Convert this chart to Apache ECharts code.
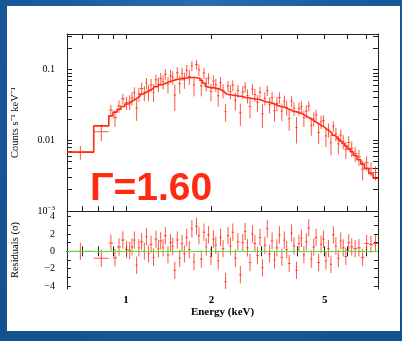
<!DOCTYPE html>
<html><head><meta charset="utf-8">
<script src="https://cdn.jsdelivr.net/npm/echarts@6/dist/echarts.min.js"></script>
<style>
html,body{margin:0;padding:0;width:402px;height:341px;overflow:hidden;}
body{background:
 radial-gradient(ellipse at 50% 0%, #2a6cb0 0%, #1d5c9f 45%, #12508f 100%);}
#panel{position:absolute;left:7px;top:6px;width:393px;height:325px;background:#fff;}
#chart{position:absolute;left:0;top:0;width:402px;height:341px;}
</style></head>
<body><div id="panel"></div><div id="chart"></div>
<script>
// Energy bin edges (keV)
const binEdges = [
 0.62, 0.77, 0.87, 0.90, 0.93, 0.96, 0.99, 1.02, 1.04, 1.06,
 1.08, 1.10, 1.12, 1.15, 1.17, 1.19, 1.21, 1.24, 1.26, 1.29,
 1.31, 1.34, 1.36, 1.39, 1.42, 1.45, 1.47, 1.50, 1.53, 1.56,
 1.59, 1.62, 1.65, 1.69, 1.72, 1.75, 1.79, 1.82, 1.86, 1.90,
 1.93, 1.97, 2.01, 2.05, 2.09, 2.13, 2.17, 2.22, 2.26, 2.31,
 2.35, 2.40, 2.45, 2.50, 2.55, 2.60, 2.65, 2.70, 2.76, 2.81,
 2.87, 2.93, 2.99, 3.05, 3.11, 3.17, 3.23, 3.30, 3.36, 3.43,
 3.50, 3.57, 3.64, 3.71, 3.79, 3.86, 3.94, 4.02, 4.10, 4.18,
 4.27, 4.35, 4.44, 4.53, 4.62, 4.71, 4.81, 4.90, 5.00, 5.10,
 5.21, 5.31, 5.42, 5.53, 5.64, 5.75, 5.87, 6.00, 6.15, 6.30,
 6.50, 6.70, 6.90, 7.15, 7.40, 7.70
];
// Observed count rate (counts s^-1 keV^-1)
const counts = [
 0.0068, 0.0132, 0.0267, 0.0209, 0.0305, 0.0386, 0.0339, 0.0351, 0.0398, 0.0469,
 0.0285, 0.0450, 0.0539, 0.0470, 0.0640, 0.0482, 0.0606, 0.0481, 0.0714, 0.0622,
 0.0742, 0.0675, 0.0861, 0.0622, 0.0814, 0.0776, 0.0435, 0.0901, 0.0633, 0.0872,
 0.0719, 0.0979, 0.0798, 0.1130, 0.0604, 0.1180, 0.0993, 0.0587, 0.0893, 0.0632,
 0.0752, 0.0491, 0.0689, 0.0608, 0.0425, 0.0657, 0.0506, 0.0254, 0.0583, 0.0488,
 0.0600, 0.0368, 0.0503, 0.0245, 0.0484, 0.0566, 0.0429, 0.0299, 0.0530, 0.0442,
 0.0346, 0.0477, 0.0237, 0.0394, 0.0506, 0.0322, 0.0401, 0.0262, 0.0332, 0.0403,
 0.0258, 0.0358, 0.0290, 0.0202, 0.0358, 0.0283, 0.0151, 0.0282, 0.0298, 0.0209,
 0.0258, 0.0305, 0.0163, 0.0202, 0.0228, 0.0129, 0.0183, 0.0190, 0.0115, 0.0141,
 0.0092, 0.0158, 0.0123, 0.0089, 0.0118, 0.0096, 0.0074, 0.0093, 0.0077, 0.0065,
 0.0058, 0.0039, 0.0048, 0.0040, 0.0035
];
// 1-sigma errors on the count rate
const countsErr = [
 0.0015, 0.0035, 0.0049, 0.0055, 0.0061, 0.0066, 0.0072, 0.0084, 0.0089, 0.0092,
 0.0097, 0.0103, 0.0109, 0.0115, 0.0119, 0.0124, 0.0128, 0.0134, 0.0139, 0.0143,
 0.0149, 0.0153, 0.0158, 0.0163, 0.0167, 0.0170, 0.0176, 0.0177, 0.0180, 0.0182,
 0.0185, 0.0185, 0.0188, 0.0188, 0.0188, 0.0185, 0.0182, 0.0170, 0.0155, 0.0140,
 0.0136, 0.0134, 0.0134, 0.0131, 0.0128, 0.0124, 0.0116, 0.0070, 0.0107, 0.0107,
 0.0104, 0.0104, 0.0103, 0.0085, 0.0100, 0.0097, 0.0097, 0.0095, 0.0095, 0.0092,
 0.0092, 0.0090, 0.0088, 0.0085, 0.0084, 0.0082, 0.0080, 0.0078, 0.0076, 0.0073,
 0.0072, 0.0070, 0.0068, 0.0066, 0.0063, 0.0062, 0.0061, 0.0059, 0.0057, 0.0055,
 0.0053, 0.0050, 0.0047, 0.0045, 0.0043, 0.0041, 0.0039, 0.0036, 0.0035, 0.0032,
 0.0031, 0.0028, 0.0027, 0.0026, 0.0023, 0.0022, 0.0020, 0.0021, 0.0019, 0.0016,
 0.0015, 0.0012, 0.0011, 0.0009, 0.0008
];
// Folded power-law model (Gamma = 1.60)
const model = [
 0.0068, 0.0160, 0.0221, 0.0250, 0.0275, 0.0300, 0.0325, 0.0345, 0.0365, 0.0380,
 0.0400, 0.0420, 0.0450, 0.0470, 0.0490, 0.0510, 0.0530, 0.0550, 0.0570, 0.0590,
 0.0610, 0.0630, 0.0650, 0.0670, 0.0690, 0.0700, 0.0720, 0.0730, 0.0740, 0.0750,
 0.0760, 0.0760, 0.0770, 0.0770, 0.0770, 0.0760, 0.0750, 0.0700, 0.0640, 0.0580,
 0.0560, 0.0550, 0.0550, 0.0540, 0.0530, 0.0510, 0.0480, 0.0450, 0.0440, 0.0440,
 0.0430, 0.0430, 0.0420, 0.0420, 0.0410, 0.0400, 0.0400, 0.0390, 0.0390, 0.0380,
 0.0380, 0.0370, 0.0360, 0.0350, 0.0345, 0.0340, 0.0330, 0.0320, 0.0310, 0.0300,
 0.0295, 0.0290, 0.0280, 0.0270, 0.0260, 0.0255, 0.0250, 0.0243, 0.0235, 0.0225,
 0.0215, 0.0205, 0.0195, 0.0185, 0.0177, 0.0168, 0.0160, 0.0152, 0.0143, 0.0134,
 0.0126, 0.0118, 0.0111, 0.0104, 0.0097, 0.0090, 0.0083, 0.0076, 0.0069, 0.0061,
 0.0053, 0.0046, 0.0040, 0.0034, 0.0029
];
// Residuals in sigma
const residuals = [
 0.0, -0.8, 0.95, -0.75, 0.5, 1.3, 0.2, 0.1, 0.5, 1.3,
 -1.6, 0.4, 1.1, 0.0, 1.7, -0.3, 0.8, -0.7, 1.4, 0.3,
 1.2, 0.4, 1.8, -0.4, 1.0, 0.6, -2.2, 1.3, -0.8, 0.9,
 -0.3, 1.6, 0.2, 2.6, -1.2, 2.9, 1.8, -0.9, 2.2, 0.5,
 1.9, -0.6, 1.4, 0.7, -1.1, 1.6, 0.3, -3.5, 1.8, 0.6,
 2.2, -0.8, 1.1, -2.7, 1.0, 2.3, 0.4, -1.3, 2.0, 0.9,
 -0.5, 1.6, -1.9, 0.7, 2.6, -0.3, 1.2, -1.0, 0.4, 1.9,
 -0.7, 1.3, 0.2, -1.4, 2.1, 0.6, -2.2, 0.9, 1.5, -0.4,
 1.1, 2.7, -0.9, 0.5, 1.6, -1.3, 0.8, 1.4, -1.1, 0.3,
 -1.5, 1.9, 0.6, -0.8, 1.2, 0.4, -0.6, 1.0, 0.5, 0.3,
 0.4, -0.7, 0.9, 0.8, 0.9
];
const energyTicks = [0.7, 0.8, 0.9, 1, 2, 3, 4, 5, 6, 7];
const energyLabels = [1, 2, 5];
const countTicks = [0.002,0.003,0.004,0.005,0.006,0.007,0.008,0.009,0.01,
  0.02,0.03,0.04,0.05,0.06,0.07,0.08,0.09,0.1,0.2,0.3];
const countLabels = [0.001, 0.01, 0.1];
const residTicks = [-4,-3,-2,-1,0,1,2,3,4];
const residLabels = [-4,-2,0,2,4];

const RED = '#ff2a10';
const n = counts.length;
const topData = [], botData = [], modelLine = [];
for (let i = 0; i < n; i++) {
  const lo = binEdges[i], hi = binEdges[i+1], c = Math.sqrt(lo*hi);
  topData.push([lo, hi, counts[i], counts[i]-countsErr[i], counts[i]+countsErr[i], c]);
  botData.push([lo, hi, residuals[i], residuals[i]-1, residuals[i]+1, c]);
  modelLine.push([lo, model[i]], [hi, model[i]]);
}
function crossItem(params, api) {
  const y = api.value(2), c = api.value(5);
  const a = api.coord([api.value(0), y]);
  const b = api.coord([api.value(1), y]);
  const t = api.coord([c, api.value(4)]);
  const d = api.coord([c, api.value(3)]);
  const st = {stroke: RED, lineWidth: 1, opacity: 0.8};
  return {type: 'group', children: [
    {type: 'line', shape: {x1: a[0], y1: a[1], x2: b[0], y2: b[1]}, style: st},
    {type: 'line', shape: {x1: t[0], y1: t[1], x2: d[0], y2: d[1]}, style: st}
  ]};
}
const FONT = 'Liberation Serif';
const axLine = {show: true, lineStyle: {color: '#222', width: 1}};
function xAx(grid, pos, labels) {
  return {type: 'log', gridIndex: grid, position: pos, min: 0.62, max: 7.7,
    axisLine: axLine, splitLine: {show: false},
    axisTick: {show: true, inside: true, length: 5, customValues: energyTicks, lineStyle: {color: '#222'}},
    axisLabel: labels ? {show: true, customValues: energyLabels, margin: 6, fontFamily: FONT, fontSize: 11, fontWeight: 'bold', color: '#000',
      formatter: v => String(Math.round(v))} : {show: false},
    name: labels ? 'Energy (keV)' : '', nameLocation: 'middle', nameGap: 18,
    nameTextStyle: {fontFamily: FONT, fontSize: 11, fontWeight: 'bold', color: '#000'}};
}
const option = {
  animation: false,
  grid: [
    {left: 67, top: 34, width: 311, height: 177},
    {left: 67, top: 211, width: 311, height: 78}
  ],
  xAxis: [xAx(0, 'bottom', false), xAx(0, 'top', false), xAx(1, 'bottom', true), xAx(1, 'top', false)],
  yAxis: [
    {type: 'log', gridIndex: 0, position: 'left', min: 0.001, max: 0.318,
      axisLine: axLine, splitLine: {show: false},
      axisTick: {show: true, inside: true, length: 5, customValues: countTicks, lineStyle: {color: '#222'}},
      axisLabel: {show: true, customValues: countLabels, margin: 12, fontFamily: FONT, fontSize: 10, color: '#000',
        formatter: v => { const e = Math.round(Math.log10(v)); return e === -3 ? '{b|10}{s|−3}' : (e === -2 ? '0.01' : '0.1'); },
        rich: {b: {fontFamily: FONT, fontSize: 10, color: '#000'}, s: {fontFamily: FONT, fontSize: 7, color: '#000', verticalAlign: 'bottom', padding: [0,0,6,0]}}},
      name: 'Counts s⁻¹ keV⁻¹', nameLocation: 'middle', nameGap: 46,
      nameTextStyle: {fontFamily: FONT, fontSize: 10.5, color: '#000'}},
    {type: 'log', gridIndex: 0, position: 'right', min: 0.001, max: 0.318,
      axisLine: axLine, splitLine: {show: false},
      axisTick: {show: true, inside: true, length: 5, customValues: countTicks, lineStyle: {color: '#222'}},
      axisLabel: {show: false}},
    {type: 'value', gridIndex: 1, position: 'left', min: -4.35, max: 4.65,
      axisLine: axLine, splitLine: {show: false},
      axisTick: {show: true, inside: true, length: 4, customValues: residTicks, lineStyle: {color: '#222'}},
      axisLabel: {show: true, customValues: residLabels, margin: 12, fontFamily: FONT, fontSize: 10, color: '#000',
        formatter: v => (v < 0 ? '−' + Math.abs(v) : String(v))},
      name: 'Residuals (σ)', nameLocation: 'middle', nameGap: 46,
      nameTextStyle: {fontFamily: FONT, fontSize: 10.5, color: '#000'}},
    {type: 'value', gridIndex: 1, position: 'right', min: -4.35, max: 4.65,
      axisLine: axLine, splitLine: {show: false},
      axisTick: {show: true, inside: true, length: 4, customValues: residTicks, lineStyle: {color: '#222'}},
      axisLabel: {show: false}}
  ],
  series: [
    {type: 'custom', xAxisIndex: 0, yAxisIndex: 0, data: topData, renderItem: crossItem, clip: true,
      encode: {x: [0, 1], y: [2, 3, 4]}},
    {type: 'line', xAxisIndex: 0, yAxisIndex: 0, data: modelLine, showSymbol: false, clip: true,
      lineStyle: {color: RED, width: 1.6}},
    {type: 'custom', xAxisIndex: 2, yAxisIndex: 2, data: botData, renderItem: crossItem, clip: true,
      encode: {x: [0, 1], y: [2, 3, 4]},
      markLine: {silent: true, symbol: 'none', label: {show: false},
        lineStyle: {color: '#3ee83e', width: 1, type: 'solid'}, data: [{yAxis: 0}]}}
  ],
  graphic: [
    {type: 'text', x: 90, y: 189, style: {text: 'Γ=1.60', font: 'bold 39px "Liberation Sans"', fill: '#ff2a12', verticalAlign: 'middle', align: 'left'}}
  ]
};
const chart = echarts.init(document.getElementById('chart'), null, {renderer: 'canvas'});
chart.setOption(option);
</script></body></html>
